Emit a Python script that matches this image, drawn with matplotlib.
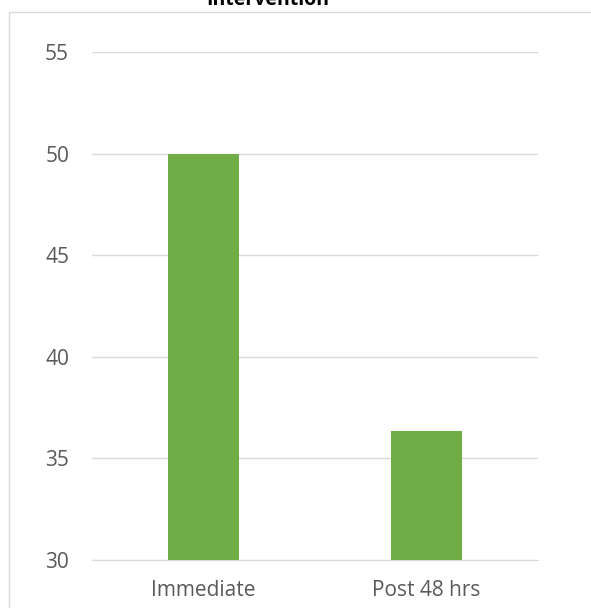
import matplotlib
matplotlib.use("Agg")
import matplotlib.pyplot as plt
from matplotlib.patches import Rectangle

categories = ["Immediate", "Post 48 hrs"]
values = [50.0, 36.35]
yticks = [30, 35, 40, 45, 50, 55]
title = "Intervention"

W, H = 591, 608
fig = plt.figure(figsize=(W/100, H/100), dpi=100)
fig.patch.set_facecolor("white")

# chart border
fig.patches.append(Rectangle((9/W, -0.05), 1.2, 1 - 12/H + 0.05, transform=fig.transFigure,
                             fill=False, edgecolor="#d9d9d9", linewidth=1.0))

ax = fig.add_axes([92/W, 1-560/H, (538-92)/W, (560-52)/H])
ax.bar(range(len(categories)), values, width=0.315, color="#70ad47", zorder=3)
ax.set_xlim(-0.5, 1.5)
ax.set_ylim(30, 55)
ax.set_yticks(yticks)
ax.grid(axis="y", color="#d9d9d9", linewidth=1.0, zorder=0)
for s in ["top", "right", "left"]:
    ax.spines[s].set_visible(False)
ax.spines["bottom"].set_color("#d9d9d9")
ax.set_xticks(range(len(categories)))
ax.set_xticklabels(categories)
ax.tick_params(axis="both", length=0, labelsize=15, labelcolor="#595959")
ax.tick_params(axis="x", pad=14.5)
ax.tick_params(axis="y", pad=16.5)
for lbl in ax.get_xticklabels() + ax.get_yticklabels():
    lbl.set_family("Open Sans")

fig.text(268/W, 1-5/H, title, ha="center", va="baseline", fontsize=14,
         fontweight="bold", family="Open Sans", color="black")

fig.savefig("out.png", dpi=100)
